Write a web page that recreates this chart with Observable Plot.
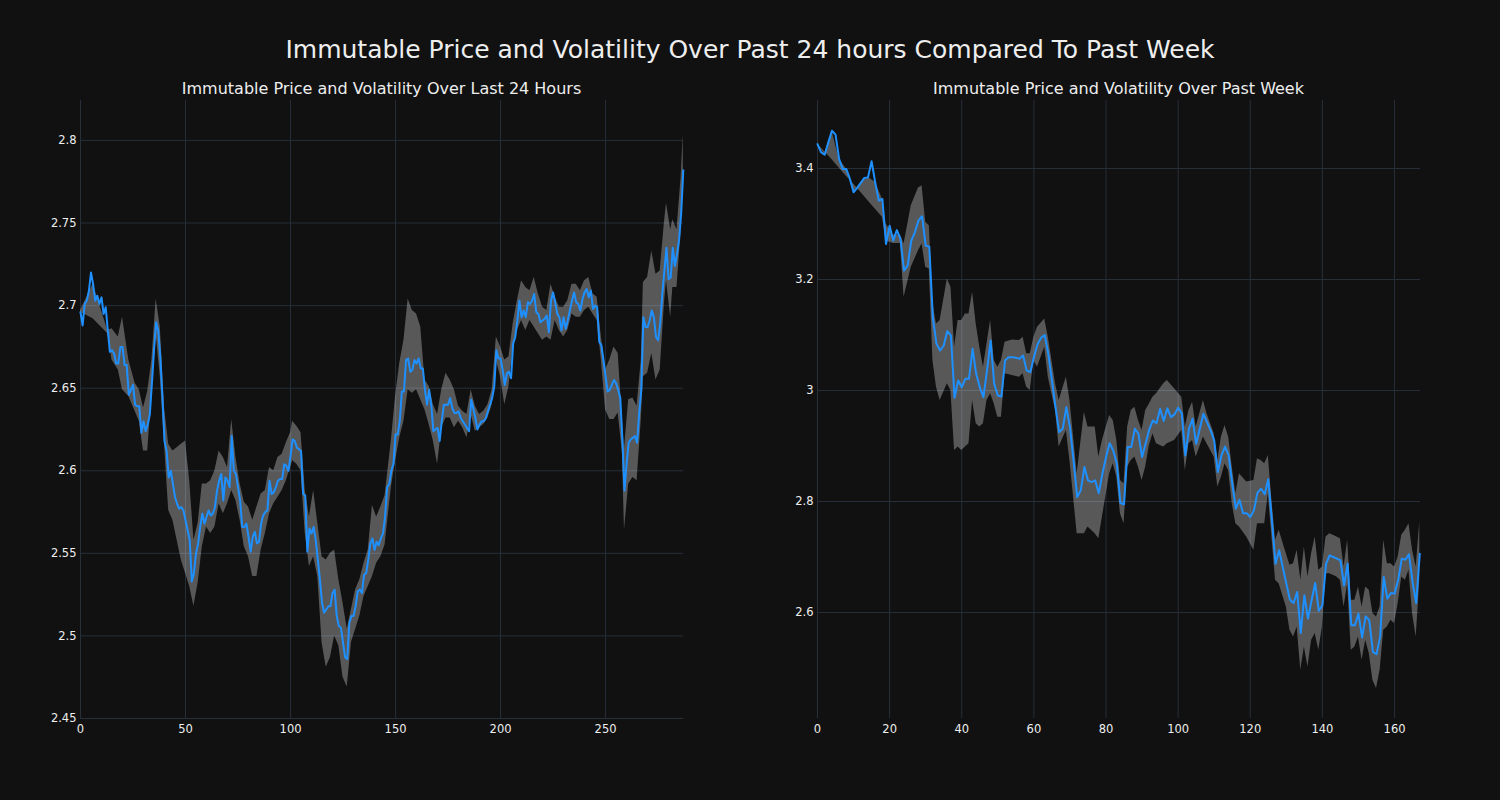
<!DOCTYPE html>
<html>
<head>
<meta charset="utf-8">
<script src="https://cdn.jsdelivr.net/npm/d3@7"></script>
<script src="https://cdn.jsdelivr.net/npm/@observablehq/plot@0.6"></script>
<style>
  html, body { margin: 0; padding: 0; background: #111111; }
  #fig { position: relative; width: 1500px; height: 800px; background: #111111; overflow: hidden;
         font-family: "DejaVu Sans", sans-serif; color: #eeeeee; }
  .title { position: absolute; top: 35px; left: 0; width: 1500px; text-align: center; font-size: 25px; line-height: 30px; }
  .sub { position: absolute; top: 79px; width: 603px; text-align: center; font-size: 16px; line-height: 20px; }
  .panel { position: absolute; top: 80px; }
</style>
</head>
<body>
<div id="fig">
  <div class="title">Immutable Price and Volatility Over Past 24 hours Compared To Past Week</div>
  <div class="sub" style="left:80px">Immutable Price and Volatility Over Last 24 Hours</div>
  <div class="sub" style="left:817px">Immutable Price and Volatility Over Past Week</div>
  <div class="panel" id="left" style="left:0px"></div>
  <div class="panel" id="right" style="left:737px"></div>
</div>
<script>
// ---- Last 24 hours (5-minute steps) ----
const dayPrice = [
2.696,2.688,2.701,2.703,2.709,2.72,2.713,2.703,2.706,2.701,
2.705,2.695,2.699,2.685,2.672,2.673,2.671,2.665,2.665,2.675,
2.675,2.664,2.664,2.646,2.649,2.652,2.64,2.639,2.639,2.623,
2.630,2.624,2.628,2.634,2.653,2.673,2.690,2.685,2.669,2.645,
2.618,2.612,2.596,2.60,2.592,2.584,2.580,2.577,2.578,2.576,
2.570,2.564,2.558,2.533,2.538,2.55,2.556,2.566,2.574,2.568,
2.572,2.576,2.573,2.574,2.578,2.588,2.594,2.598,2.582,2.596,
2.594,2.59,2.621,2.60,2.598,2.59,2.582,2.566,2.566,2.568,
2.560,2.551,2.560,2.563,2.556,2.557,2.568,2.573,2.575,2.576,
2.594,2.586,2.587,2.590,2.594,2.595,2.595,2.604,2.603,2.60,
2.609,2.619,2.618,2.614,2.613,2.612,2.586,2.585,2.551,2.565,
2.562,2.566,2.558,2.546,2.534,2.520,2.514,2.516,2.518,2.518,
2.526,2.528,2.512,2.506,2.505,2.496,2.487,2.486,2.508,2.512,
2.512,2.518,2.527,2.528,2.526,2.537,2.538,2.546,2.556,2.559,
2.552,2.557,2.555,2.559,2.562,2.572,2.59,2.592,2.60,2.604,
2.622,2.622,2.630,2.648,2.648,2.667,2.668,2.66,2.661,2.667,
2.665,2.668,2.662,2.662,2.649,2.640,2.649,2.640,2.624,2.625,
2.626,2.618,2.630,2.640,2.640,2.640,2.644,2.638,2.635,2.635,
2.636,2.632,2.630,2.628,2.626,2.624,2.643,2.638,2.632,2.625,
2.628,2.630,2.630,2.632,2.636,2.640,2.644,2.651,2.673,2.668,
2.668,2.661,2.652,2.659,2.66,2.656,2.677,2.681,2.691,2.703,
2.693,2.697,2.693,2.702,2.701,2.703,2.707,2.696,2.695,2.690,
2.691,2.692,2.694,2.684,2.703,2.708,2.702,2.695,2.693,2.685,
2.693,2.686,2.691,2.697,2.703,2.708,2.702,2.701,2.697,2.704,
2.708,2.71,2.705,2.709,2.698,2.70,2.699,2.678,2.676,2.667,
2.657,2.648,2.649,2.652,2.655,2.653,2.649,2.644,2.619,2.588,
2.604,2.617,2.619,2.620,2.621,2.617,2.635,2.649,2.693,2.687,
2.687,2.691,2.697,2.693,2.681,2.679,2.689,2.707,2.721,2.735,
2.716,2.717,2.735,2.724,2.731,2.74,2.756,2.782
];
const dayBandX = [0,6,13,15,18,20,23,26,28,30,32,34,36,38,40,42,44,46,48,50,52,54,56,58,60,62,64,66,68,70,
72,74,76,78,80,82,84,86,88,90,92,94,96,98,100,101,103,105,107,109,111,113,115,117,119,121,123,125,127,129,
131,133,135,137,139,141,143,145,148,150,152,154,156,158,160,162,164,166,168,170,172,174,176,178,180,182,184,186,188,190,
192,194,196,198,200,202,204,206,208,210,212,214,216,218,220,222,224,226,228,230,232,234,236,238,240,242,244,246,248,250,
252,254,256,258,259,261,263,265,267,268,270,272,274,276,278,279,281,282,284,286,287];
const dayBandLo = [2.696,2.692,2.683,2.667,2.661,2.649,2.645,2.636,2.630,2.612,2.612,2.647,2.683,2.657,2.616,2.576,2.570,2.558,2.546,2.538,2.530,2.518,2.532,2.554,2.566,2.562,2.566,2.58,2.574,2.58,
2.588,2.582,2.57,2.554,2.548,2.536,2.536,2.552,2.562,2.574,2.58,2.584,2.588,2.594,2.602,2.606,2.604,2.60,2.562,2.542,2.548,2.536,2.496,2.481,2.487,2.50,2.494,2.475,2.469,2.496,
2.504,2.512,2.524,2.53,2.536,2.544,2.548,2.555,2.59,2.606,2.620,2.630,2.649,2.647,2.649,2.643,2.637,2.628,2.618,2.604,2.626,2.632,2.632,2.626,2.630,2.626,2.62,2.634,2.624,2.626,
2.628,2.632,2.640,2.667,2.657,2.640,2.651,2.675,2.685,2.691,2.685,2.691,2.687,2.683,2.679,2.681,2.679,2.691,2.685,2.681,2.685,2.695,2.693,2.693,2.697,2.699,2.695,2.691,2.667,2.637,
2.631,2.631,2.635,2.611,2.564,2.592,2.596,2.594,2.631,2.657,2.659,2.671,2.655,2.661,2.701,2.715,2.693,2.711,2.711,2.746,2.776];
const dayBandHi = [2.697,2.713,2.685,2.686,2.681,2.693,2.667,2.653,2.649,2.638,2.648,2.667,2.704,2.687,2.638,2.616,2.612,2.614,2.616,2.618,2.594,2.558,2.568,2.592,2.592,2.594,2.60,2.612,2.608,2.602,
2.631,2.608,2.592,2.581,2.578,2.570,2.578,2.586,2.588,2.602,2.60,2.608,2.610,2.617,2.623,2.630,2.627,2.623,2.588,2.572,2.588,2.568,2.548,2.546,2.55,2.552,2.534,2.52,2.504,2.516,
2.528,2.534,2.544,2.552,2.579,2.572,2.578,2.585,2.618,2.645,2.665,2.679,2.704,2.697,2.695,2.687,2.655,2.651,2.640,2.634,2.649,2.659,2.655,2.649,2.639,2.636,2.634,2.649,2.639,2.634,
2.636,2.640,2.649,2.681,2.675,2.667,2.669,2.689,2.703,2.715,2.711,2.709,2.717,2.707,2.699,2.697,2.713,2.705,2.699,2.699,2.703,2.713,2.713,2.709,2.715,2.717,2.707,2.705,2.681,2.661,
2.667,2.675,2.671,2.631,2.613,2.643,2.644,2.639,2.667,2.714,2.717,2.733,2.719,2.721,2.75,2.762,2.746,2.752,2.746,2.778,2.804];

// ---- Past week (hourly steps) ----
const weekPrice = [
3.444,3.429,3.425,3.447,3.468,3.461,3.417,3.399,3.399,3.381,
3.357,3.365,3.374,3.383,3.384,3.413,3.375,3.342,3.345,3.264,
3.297,3.270,3.289,3.273,3.216,3.225,3.270,3.285,3.306,3.314,
3.261,3.259,3.13,3.084,3.072,3.081,3.107,3.099,2.987,3.018,
3.006,3.021,3.021,3.075,3.030,3.006,2.988,3.036,3.090,3.012,
2.991,2.989,3.054,3.060,3.060,3.059,3.057,3.063,3.036,3.033,
3.060,3.083,3.095,3.100,3.066,3.018,2.97,2.925,2.931,2.97,
2.934,2.874,2.808,2.820,2.862,2.838,2.835,2.838,2.815,2.850,
2.880,2.905,2.892,2.868,2.797,2.795,2.898,2.898,2.931,2.922,
2.880,2.905,2.93,2.946,2.941,2.967,2.945,2.968,2.952,2.957,
2.969,2.959,2.883,2.931,2.949,2.904,2.931,2.958,2.943,2.928,
2.910,2.853,2.883,2.899,2.883,2.832,2.787,2.803,2.779,2.779,
2.772,2.784,2.816,2.823,2.813,2.840,2.766,2.688,2.712,2.682,
2.652,2.623,2.617,2.637,2.563,2.631,2.589,2.622,2.653,2.603,
2.613,2.687,2.703,2.700,2.697,2.694,2.649,2.688,2.577,2.577,
2.598,2.555,2.593,2.586,2.529,2.525,2.556,2.664,2.625,2.635,
2.634,2.658,2.697,2.695,2.705,2.655,2.617,2.706
];
const weekBandX = [0,2,4,6,8,10,12,14,16,18,19,21,23,24,26,28,29,30,31,32,33,34,36,37,38,39,40,41,42,43,
44,45,46,47,48,49,50,51,52,54,56,57,58,59,60,61,63,64,66,67,69,70,72,74,75,77,78,79,81,82,
83,84,85,86,87,88,89,90,91,92,93,94,96,97,99,101,102,103,104,105,106,107,108,110,111,112,113,114,115,116,
117,119,121,122,123,124,125,126,127,128,130,131,132,133,134,135,136,137,138,139,140,141,142,143,144,145,146,147,148,149,
150,151,152,153,154,155,156,157,158,159,160,161,162,163,164,165,166,167];
const weekBandLo = [3.444,3.43,3.416,3.401,3.386,3.372,3.357,3.342,3.327,3.312,3.27,3.265,3.265,3.168,3.222,3.252,3.264,3.222,3.219,3.054,3.006,2.982,3.012,3.0,2.892,2.898,2.892,2.898,2.904,2.982,
2.94,2.934,2.94,2.982,2.994,2.976,2.952,2.952,3.03,3.027,3.024,3.03,3.006,3.0,3.054,3.042,3.078,3.024,2.964,2.898,2.928,2.874,2.742,2.742,2.754,2.742,2.733,2.772,2.85,2.868,
2.844,2.778,2.76,2.862,2.874,2.88,2.862,2.838,2.862,2.90,2.922,2.904,2.898,2.904,2.910,2.928,2.856,2.904,2.910,2.88,2.898,2.916,2.904,2.88,2.826,2.844,2.868,2.856,2.796,2.76,
2.754,2.736,2.712,2.760,2.76,2.76,2.814,2.736,2.658,2.652,2.61,2.568,2.556,2.574,2.496,2.538,2.502,2.55,2.562,2.532,2.574,2.670,2.670,2.667,2.664,2.658,2.61,2.652,2.532,2.538,
2.556,2.514,2.55,2.526,2.478,2.463,2.496,2.568,2.574,2.586,2.58,2.616,2.664,2.658,2.676,2.598,2.556,2.658];
const weekBandHi = [3.444,3.425,3.468,3.417,3.399,3.357,3.374,3.384,3.375,3.345,3.30,3.28,3.28,3.264,3.333,3.365,3.369,3.303,3.297,3.156,3.12,3.126,3.201,3.186,3.078,3.126,3.126,3.138,3.138,3.177,
3.12,3.078,3.042,3.084,3.126,3.054,3.042,3.054,3.087,3.091,3.09,3.096,3.066,3.066,3.096,3.114,3.129,3.096,3.012,2.982,3.024,2.982,2.85,2.961,2.934,2.934,2.88,2.91,2.955,2.946,
2.91,2.838,2.832,2.934,2.964,2.97,2.946,2.928,2.964,2.975,2.988,2.994,3.012,3.018,3.003,2.988,2.934,2.964,2.979,2.934,2.958,2.982,2.958,2.922,2.874,2.916,2.937,2.916,2.862,2.814,
2.85,2.835,2.838,2.877,2.874,2.868,2.883,2.802,2.73,2.748,2.706,2.685,2.688,2.712,2.658,2.718,2.664,2.706,2.736,2.676,2.682,2.736,2.742,2.739,2.736,2.733,2.682,2.730,2.622,2.622,
2.646,2.610,2.646,2.64,2.598,2.592,2.610,2.730,2.688,2.688,2.682,2.700,2.739,2.748,2.760,2.712,2.682,2.763];

// ---- axes ticks ----
const dayXTicks = [0, 50, 100, 150, 200, 250];
const dayYTicks = [2.45, 2.5, 2.55, 2.6, 2.65, 2.7, 2.75, 2.8];
const weekXTicks = [0, 20, 40, 60, 80, 100, 120, 140, 160];
const weekYTicks = [2.6, 2.8, 3, 3.2, 3.4];

const GRID = "#272f3b";
const LINE = "#1e90ff";

function panel(price, bx, blo, bhi, xDomain, yDomain, xTicks, yTicks) {
  const line = price.map((v, i) => ({x: i, y: v}));
  const band = bx.map((x, i) => ({x, lo: blo[i], hi: bhi[i]}));
  return Plot.plot({
    width: 700,
    height: 680,
    marginLeft: 80,
    marginRight: 17,
    marginTop: 20,
    marginBottom: 42,
    style: {background: "transparent", color: "#eeeeee", fontFamily: "DejaVu Sans, sans-serif", fontSize: "11.5px"},
    x: {domain: xDomain, label: null},
    y: {domain: yDomain, label: null},
    marks: [
      Plot.gridX(xTicks, {stroke: GRID, strokeOpacity: 1, strokeWidth: 1}),
      Plot.gridY(yTicks, {stroke: GRID, strokeOpacity: 1, strokeWidth: 1}),
      Plot.axisX(xTicks, {tickSize: 0, tickPadding: 6, fill: "#eeeeee", tickFormat: d => String(d), label: null}),
      Plot.axisY(yTicks, {tickSize: 0, tickPadding: 4, fill: "#eeeeee", tickFormat: d => String(d), label: null}),
      Plot.areaY(band, {x: "x", y1: "lo", y2: "hi", fill: "#ffffff", fillOpacity: 0.3}),
      Plot.lineY(line, {x: "x", y: "y", stroke: LINE, strokeWidth: 2})
    ]
  });
}

document.getElementById("left").append(
  panel(dayPrice, dayBandX, dayBandLo, dayBandHi, [0, 287.1], [2.45, 2.8242], dayXTicks, dayYTicks));
document.getElementById("right").append(
  panel(weekPrice, weekBandX, weekBandLo, weekBandHi, [0, 167.2], [2.409, 3.5225], weekXTicks, weekYTicks));
</script>
</body>
</html>
